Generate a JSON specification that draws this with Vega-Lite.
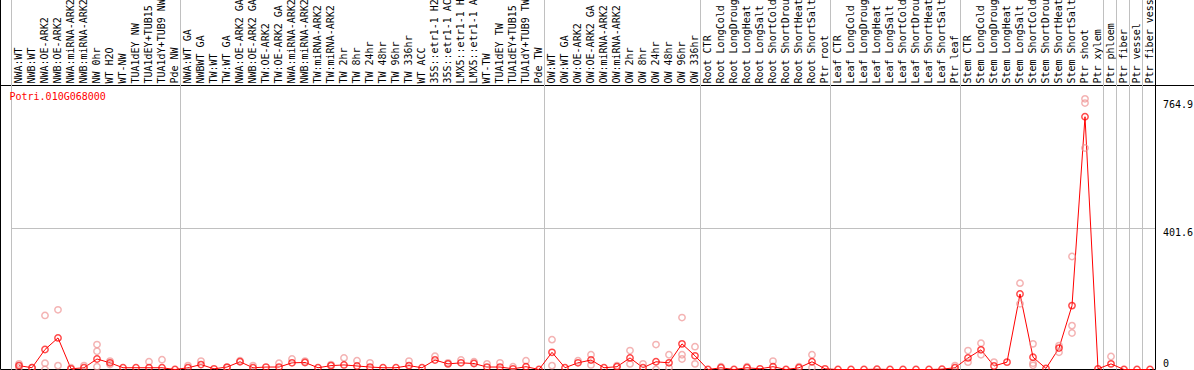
{
"$schema": "https://vega.github.io/schema/vega-lite/v6.json",
"width": 1144,
"height": 370,
"autosize": {"type": "none"},
"padding": {"left": 11.5, "top": -0.5, "right": 38.5, "bottom": 0.5},
"config": {"view": {"stroke": null}},
"data": {"values": [
{"sample":"NWA:WT","group":"NW","kind":"mean","value":11},
{"sample":"NWB:WT","group":"NW","kind":"mean","value":5},
{"sample":"NWA:OE-ARK2","group":"NW","kind":"mean","value":57},
{"sample":"NWB:OE-ARK2","group":"NW","kind":"mean","value":90},
{"sample":"NWA:miRNA-ARK2","group":"NW","kind":"mean","value":2},
{"sample":"NWB:miRNA-ARK2","group":"NW","kind":"mean","value":5},
{"sample":"NW 0hr","group":"NW","kind":"mean","value":30},
{"sample":"WT H2O","group":"NW","kind":"mean","value":19},
{"sample":"WT-NW","group":"NW","kind":"mean","value":5},
{"sample":"TUA1dEY NW","group":"NW","kind":"mean","value":5},
{"sample":"TUA1dEY+TUB15 NW","group":"NW","kind":"mean","value":5},
{"sample":"TUA1dY+TUB9 NW","group":"NW","kind":"mean","value":5},
{"sample":"Pde NW","group":"NW","kind":"mean","value":0},
{"sample":"NWA:WT GA","group":"TW","kind":"mean","value":5},
{"sample":"NWBWT GA","group":"TW","kind":"mean","value":14},
{"sample":"TW:WT","group":"TW","kind":"mean","value":2},
{"sample":"TW:WT GA","group":"TW","kind":"mean","value":7},
{"sample":"NWA:OE-ARK2 GA","group":"TW","kind":"mean","value":22},
{"sample":"NWB:OE-ARK2 GA","group":"TW","kind":"mean","value":5},
{"sample":"TW:OE-ARK2","group":"TW","kind":"mean","value":7},
{"sample":"TW:OE-ARK2 GA","group":"TW","kind":"mean","value":7},
{"sample":"NWA:miRNA-ARK2 GA","group":"TW","kind":"mean","value":19},
{"sample":"NWB:miRNA-ARK2 GA","group":"TW","kind":"mean","value":20},
{"sample":"TW:miRNA-ARK2","group":"TW","kind":"mean","value":5},
{"sample":"TW:miRNA-ARK2 GA","group":"TW","kind":"mean","value":11},
{"sample":"TW 2hr","group":"TW","kind":"mean","value":13},
{"sample":"TW 8hr","group":"TW","kind":"mean","value":10},
{"sample":"TW 24hr","group":"TW","kind":"mean","value":7},
{"sample":"TW 48hr","group":"TW","kind":"mean","value":5},
{"sample":"TW 96hr","group":"TW","kind":"mean","value":5},
{"sample":"TW 336hr","group":"TW","kind":"mean","value":11},
{"sample":"WT ACC","group":"TW","kind":"mean","value":5},
{"sample":"35S::etr1-1 H2O","group":"TW","kind":"mean","value":27},
{"sample":"35S::etr1-1 ACC","group":"TW","kind":"mean","value":16},
{"sample":"LMX5::etr1-1 H2O","group":"TW","kind":"mean","value":19},
{"sample":"LMX5::etr1-1 ACC","group":"TW","kind":"mean","value":17},
{"sample":"WT-TW","group":"TW","kind":"mean","value":7},
{"sample":"TUA1dEY TW","group":"TW","kind":"mean","value":7},
{"sample":"TUA1dEY+TUB15 TW","group":"TW","kind":"mean","value":2},
{"sample":"TUA1dY+TUB9 TW","group":"TW","kind":"mean","value":8},
{"sample":"Pde TW","group":"TW","kind":"mean","value":0},
{"sample":"OW:WT","group":"OW","kind":"mean","value":49},
{"sample":"OW:WT GA","group":"OW","kind":"mean","value":5},
{"sample":"OW:OE-ARK2","group":"OW","kind":"mean","value":19},
{"sample":"OW:OE-ARK2 GA","group":"OW","kind":"mean","value":27},
{"sample":"OW:miRNA-ARK2","group":"OW","kind":"mean","value":5},
{"sample":"OW:miRNA-ARK2 GA","group":"OW","kind":"mean","value":8},
{"sample":"OW 2hr","group":"OW","kind":"mean","value":33},
{"sample":"OW 8hr","group":"OW","kind":"mean","value":5},
{"sample":"OW 24hr","group":"OW","kind":"mean","value":22},
{"sample":"OW 48hr","group":"OW","kind":"mean","value":19},
{"sample":"OW 96hr","group":"OW","kind":"mean","value":73},
{"sample":"OW 336hr","group":"OW","kind":"mean","value":39},
{"sample":"Root CTR","group":"Root","kind":"mean","value":0},
{"sample":"Root LongCold","group":"Root","kind":"mean","value":5},
{"sample":"Root LongDrought","group":"Root","kind":"mean","value":0},
{"sample":"Root LongHeat","group":"Root","kind":"mean","value":5},
{"sample":"Root LongSalt","group":"Root","kind":"mean","value":2},
{"sample":"Root ShortCold","group":"Root","kind":"mean","value":8},
{"sample":"Root ShortDrought","group":"Root","kind":"mean","value":0},
{"sample":"Root ShortHeat","group":"Root","kind":"mean","value":5},
{"sample":"Root ShortSalt","group":"Root","kind":"mean","value":22},
{"sample":"Ptr root","group":"Root","kind":"mean","value":2},
{"sample":"Leaf CTR","group":"Leaf","kind":"mean","value":0},
{"sample":"Leaf LongCold","group":"Leaf","kind":"mean","value":0},
{"sample":"Leaf LongDrought","group":"Leaf","kind":"mean","value":0},
{"sample":"Leaf LongHeat","group":"Leaf","kind":"mean","value":1},
{"sample":"Leaf LongSalt","group":"Leaf","kind":"mean","value":0},
{"sample":"Leaf ShortCold","group":"Leaf","kind":"mean","value":0},
{"sample":"Leaf ShortDrought","group":"Leaf","kind":"mean","value":0},
{"sample":"Leaf ShortHeat","group":"Leaf","kind":"mean","value":0},
{"sample":"Leaf ShortSalt","group":"Leaf","kind":"mean","value":1},
{"sample":"Ptr leaf","group":"Leaf","kind":"mean","value":5},
{"sample":"Stem CTR","group":"Stem","kind":"mean","value":33},
{"sample":"Stem LongCold","group":"Stem","kind":"mean","value":56},
{"sample":"Stem LongDrought","group":"Stem","kind":"mean","value":10},
{"sample":"Stem LongHeat","group":"Stem","kind":"mean","value":21},
{"sample":"Stem LongSalt","group":"Stem","kind":"mean","value":215},
{"sample":"Stem ShortCold","group":"Stem","kind":"mean","value":35},
{"sample":"Stem ShortDrought","group":"Stem","kind":"mean","value":3},
{"sample":"Stem ShortHeat","group":"Stem","kind":"mean","value":61},
{"sample":"Stem ShortSalt","group":"Stem","kind":"mean","value":182},
{"sample":"Ptr shoot","group":"Stem","kind":"mean","value":720},
{"sample":"Ptr xylem","group":"Stem","kind":"mean","value":2},
{"sample":"Ptr phloem","group":"phloem","kind":"mean","value":16},
{"sample":"Ptr fiber","group":"fiber","kind":"mean","value":0},
{"sample":"Ptr vessel","group":"vessel","kind":"mean","value":0},
{"sample":"Ptr fiber vessel","group":"fiber vessel","kind":"mean","value":0},
{"sample":"NWA:WT","kind":"rep","value":16},
{"sample":"NWA:WT","kind":"rep","value":5},
{"sample":"NWB:WT","kind":"rep","value":5},
{"sample":"NWA:OE-ARK2","kind":"rep","value":154},
{"sample":"NWA:OE-ARK2","kind":"rep","value":18},
{"sample":"NWA:OE-ARK2","kind":"rep","value":0},
{"sample":"NWB:OE-ARK2","kind":"rep","value":170},
{"sample":"NWB:OE-ARK2","kind":"rep","value":11},
{"sample":"NWA:miRNA-ARK2","kind":"rep","value":5},
{"sample":"NWB:miRNA-ARK2","kind":"rep","value":11},
{"sample":"NW 0hr","kind":"rep","value":71},
{"sample":"NW 0hr","kind":"rep","value":52},
{"sample":"NW 0hr","kind":"rep","value":8},
{"sample":"WT H2O","kind":"rep","value":24},
{"sample":"WT H2O","kind":"rep","value":14},
{"sample":"TUA1dEY+TUB15 NW","kind":"rep","value":22},
{"sample":"TUA1dY+TUB9 NW","kind":"rep","value":28},
{"sample":"NWA:WT GA","kind":"rep","value":11},
{"sample":"NWBWT GA","kind":"rep","value":24},
{"sample":"TW:WT GA","kind":"rep","value":5},
{"sample":"NWA:OE-ARK2 GA","kind":"rep","value":25},
{"sample":"NWB:OE-ARK2 GA","kind":"rep","value":11},
{"sample":"TW:OE-ARK2 GA","kind":"rep","value":18},
{"sample":"NWA:miRNA-ARK2 GA","kind":"rep","value":30},
{"sample":"NWB:miRNA-ARK2 GA","kind":"rep","value":24},
{"sample":"TW:miRNA-ARK2 GA","kind":"rep","value":14},
{"sample":"TW 2hr","kind":"rep","value":33},
{"sample":"TW 8hr","kind":"rep","value":25},
{"sample":"TW 24hr","kind":"rep","value":19},
{"sample":"TW 336hr","kind":"rep","value":24},
{"sample":"35S::etr1-1 H2O","kind":"rep","value":38},
{"sample":"35S::etr1-1 ACC","kind":"rep","value":19},
{"sample":"LMX5::etr1-1 H2O","kind":"rep","value":27},
{"sample":"LMX5::etr1-1 ACC","kind":"rep","value":22},
{"sample":"WT-TW","kind":"rep","value":16},
{"sample":"TUA1dEY TW","kind":"rep","value":19},
{"sample":"TUA1dEY+TUB15 TW","kind":"rep","value":8},
{"sample":"TUA1dY+TUB9 TW","kind":"rep","value":25},
{"sample":"OW:WT","kind":"rep","value":85},
{"sample":"OW:WT","kind":"rep","value":11},
{"sample":"OW:OE-ARK2","kind":"rep","value":25},
{"sample":"OW:OE-ARK2 GA","kind":"rep","value":42},
{"sample":"OW:OE-ARK2 GA","kind":"rep","value":13},
{"sample":"OW:miRNA-ARK2 GA","kind":"rep","value":11},
{"sample":"OW 2hr","kind":"rep","value":54},
{"sample":"OW 2hr","kind":"rep","value":16},
{"sample":"OW 8hr","kind":"rep","value":16},
{"sample":"OW 24hr","kind":"rep","value":71},
{"sample":"OW 24hr","kind":"rep","value":0},
{"sample":"OW 48hr","kind":"rep","value":42},
{"sample":"OW 48hr","kind":"rep","value":5},
{"sample":"OW 96hr","kind":"rep","value":148},
{"sample":"OW 96hr","kind":"rep","value":42},
{"sample":"OW 96hr","kind":"rep","value":30},
{"sample":"OW 336hr","kind":"rep","value":65},
{"sample":"OW 336hr","kind":"rep","value":16},
{"sample":"Root LongCold","kind":"rep","value":8},
{"sample":"Root LongHeat","kind":"rep","value":8},
{"sample":"Root ShortCold","kind":"rep","value":24},
{"sample":"Root ShortHeat","kind":"rep","value":8},
{"sample":"Root ShortSalt","kind":"rep","value":42},
{"sample":"Root ShortSalt","kind":"rep","value":5},
{"sample":"Ptr leaf","kind":"rep","value":11},
{"sample":"Stem CTR","kind":"rep","value":54},
{"sample":"Stem CTR","kind":"rep","value":21},
{"sample":"Stem LongCold","kind":"rep","value":75},
{"sample":"Stem LongCold","kind":"rep","value":42},
{"sample":"Stem LongDrought","kind":"rep","value":21},
{"sample":"Stem LongSalt","kind":"rep","value":246},
{"sample":"Stem LongSalt","kind":"rep","value":187},
{"sample":"Stem ShortCold","kind":"rep","value":73},
{"sample":"Stem ShortCold","kind":"rep","value":18},
{"sample":"Stem ShortCold","kind":"rep","value":12},
{"sample":"Stem ShortHeat","kind":"rep","value":68},
{"sample":"Stem ShortHeat","kind":"rep","value":49},
{"sample":"Stem ShortSalt","kind":"rep","value":322},
{"sample":"Stem ShortSalt","kind":"rep","value":125},
{"sample":"Stem ShortSalt","kind":"rep","value":104},
{"sample":"Ptr shoot","kind":"rep","value":771},
{"sample":"Ptr shoot","kind":"rep","value":759},
{"sample":"Ptr shoot","kind":"rep","value":631},
{"sample":"Ptr phloem","kind":"rep","value":37}
]},
"resolve": {"axis": {"y": "independent"}},
"layer": [
{
"transform": [{"filter": "datum.kind == 'mean'"}, {"window": [{"op": "row_number", "as": "n"}], "groupby": ["group"]}],
"mark": {"type": "rule", "color": "#c0c0c0", "strokeWidth": 1},
"encoding": {
"x": {"field": "sample", "type": "nominal", "sort": null, "bandPosition": 0,
"scale": {"type": "band", "paddingInner": 0, "paddingOuter": 0},
"axis": {"orient": "top", "offset": -86, "translate": 0, "domain": false, "ticks": false, "grid": false, "title": null,
"labelAngle": 270, "labelAlign": "left", "labelBaseline": "middle", "labelPadding": 2, "labelOffset": 1,
"labelFont": "DejaVu Sans Mono", "labelFontSize": 10, "labelColor": "#000000", "labelOverlap": false, "labelLimit": 300}},
"opacity": {"condition": {"test": "datum.n == 1", "value": 1}, "value": 0}
}
},
{
"transform": [{"filter": "datum.kind == 'mean'"}],
"mark": {"type": "line", "color": "#ff0000", "strokeWidth": 1, "xOffset": 1},
"encoding": {
"x": {"field": "sample", "type": "nominal", "sort": null, "scale": {"type": "band", "paddingInner": 0, "paddingOuter": 0}},
"y": {"field": "value", "type": "quantitative", "scale": {"domain": [0, 1054], "nice": false, "zero": true},
"axis": {"orient": "left", "offset": 11, "translate": 0, "values": [0, 809], "domain": true, "domainColor": "#000000", "domainWidth": 1,
"ticks": true, "tickSize": -11, "tickColor": "#000000", "tickWidth": 1, "labels": false, "grid": false, "title": null}}
}
},
{
"transform": [{"filter": "datum.kind == 'rep'"}],
"mark": {"type": "point", "shape": "circle", "filled": false, "color": "#f09494", "strokeWidth": 1.5, "size": 40, "xOffset": 1},
"encoding": {
"x": {"field": "sample", "type": "nominal", "sort": null, "scale": {"type": "band", "paddingInner": 0, "paddingOuter": 0}},
"y": {"field": "value", "type": "quantitative", "scale": {"domain": [0, 1054], "nice": false, "zero": true}, "axis": null}
}
},
{
"transform": [{"filter": "datum.kind == 'mean'"}],
"mark": {"type": "point", "shape": "circle", "filled": false, "color": "#ff0000", "strokeWidth": 1.5, "size": 40, "xOffset": 1},
"encoding": {
"x": {"field": "sample", "type": "nominal", "sort": null, "scale": {"type": "band", "paddingInner": 0, "paddingOuter": 0}},
"y": {"field": "value", "type": "quantitative", "scale": {"domain": [0, 1054], "nice": false, "zero": true},
"axis": {"orient": "right", "offset": 0, "translate": 0, "values": [0, 401.6, 764.9, 809], "format": ".1~f",
"labelExpr": "datum.value > 800 ? '' : datum.label",
"domain": true, "domainColor": "#000000", "domainWidth": 1,
"ticks": true, "tickSize": 38.5, "tickWidth": 1,
"tickColor": {"condition": {"test": "datum.value > 800", "value": "#000000"}, "value": "transparent"},
"labelPadding": -31, "labelOffset": -1, "labelFont": "DejaVu Sans Mono", "labelFontSize": 10, "labelColor": "#000000",
"labelBaseline": {"condition": {"test": "datum.value == 0", "value": "bottom"}, "value": "top"},
"labelFlush": false, "labelOverlap": false,
"grid": true, "gridWidth": 1,
"gridColor": {"condition": {"test": "datum.value > 800 || datum.value == 0", "value": "#000000"}, "value": "#c0c0c0"},
"gridOpacity": {"condition": {"test": "datum.value > 700 && datum.value < 800", "value": 0}, "value": 1},
"title": null}}
}
},
{
"data": {"values": [{"gene": "Potri.010G068000"}]},
"mark": {"type": "text", "font": "DejaVu Sans Mono", "fontSize": 10, "color": "#ff0000", "align": "left", "baseline": "middle", "dx": -2},
"encoding": {
"x": {"datum": "NWA:WT", "bandPosition": 0, "scale": {"type": "band", "paddingInner": 0, "paddingOuter": 0}},
"y": {"datum": 777, "type": "quantitative", "scale": {"domain": [0, 1054], "nice": false, "zero": true}, "axis": null},
"text": {"field": "gene", "type": "nominal"}
}
}
]
}
